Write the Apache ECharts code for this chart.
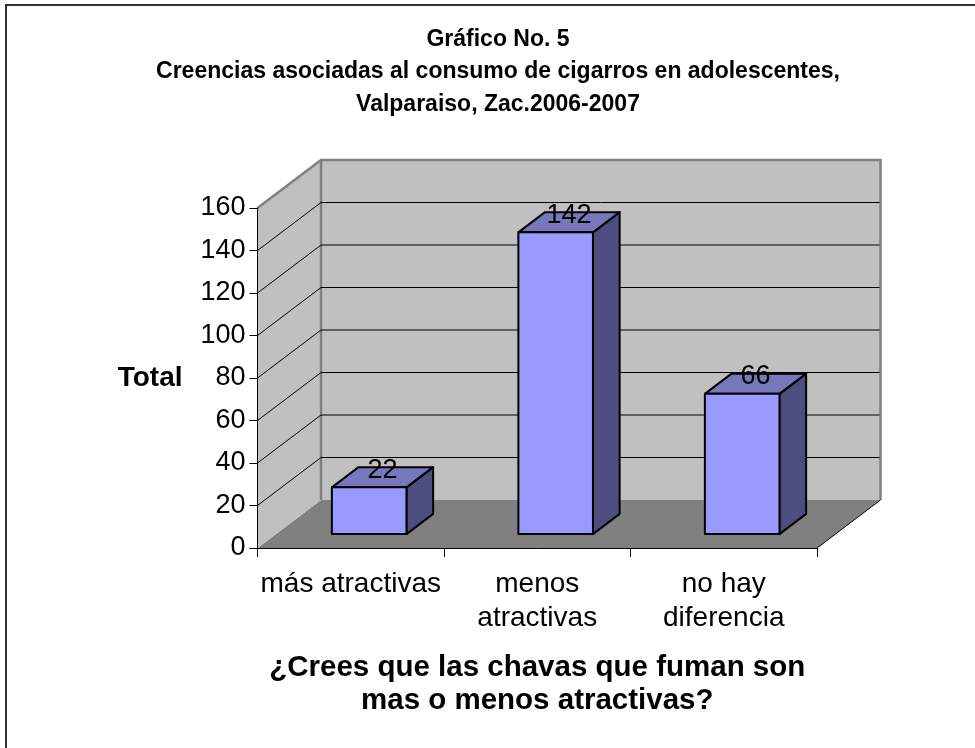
<!DOCTYPE html>
<html><head><meta charset="utf-8">
<style>html,body{margin:0;padding:0;background:#fff}#c{width:975px;height:748px}</style>
<script src="https://cdn.jsdelivr.net/npm/echarts@6/dist/echarts.min.js"></script>
</head><body><div id="c"></div>
<script>
var categories = ['más atractivas', 'menos\natractivas', 'no hay\ndiferencia'];
var values = [22, 142, 66];
var yTicks = [20, 40, 60, 80, 100, 120, 140, 160];
var titleLines = 'Gráfico No. 5\nCreencias asociadas al consumo de cigarros en adolescentes,\nValparaiso, Zac.2006-2007';
var xName = '¿Crees que las chavas que fuman son\nmas o menos atractivas?';
var yName = 'Total';

var FONT = '"Liberation Sans", Arial, sans-serif';
var DX = 63.5, DY = -48;          // wall depth
var BAR_START = 0.29, BAR_DEPTH = 0.42, BAR_W = 0.4;

var chart = echarts.init(document.getElementById('c'), null, {renderer: 'canvas'});

function wallItem(params, api) {
  var band = api.size([1, 0])[0];
  var o = api.coord([0, 0]);
  var top = api.coord([0, 160]);
  var x0 = o[0] - band / 2, x1 = x0 + 3 * band;
  var y0 = o[1], y1 = top[1];
  var edge = {stroke: '#808080', lineWidth: 2.5, fill: null};
  return {type: 'group', children: [
    {type: 'polygon', shape: {points: [[x0 + DX, y0 + DY], [x1 + DX, y0 + DY], [x1, y0], [x0, y0]]},
      style: {fill: '#808080', stroke: null}},
    {type: 'polygon', shape: {points: [[x0, y0], [x0 + DX, y0 + DY], [x0 + DX, y1 + DY], [x0, y1]]},
      style: {fill: '#C0C0C0', stroke: null}},
    {type: 'polygon', shape: {points: [[x0 + DX, y0 + DY], [x1 + DX, y0 + DY], [x1 + DX, y1 + DY], [x0 + DX, y1 + DY]]},
      style: {fill: '#C0C0C0', stroke: null}},
    {type: 'polyline', shape: {points: [[x0, y1], [x0 + DX, y1 + DY], [x1 + DX, y1 + DY], [x1 + DX, y0 + DY]]}, style: edge},
    {type: 'line', shape: {x1: x0 + DX, y1: y1 + DY, x2: x0 + DX, y2: y0 + DY}, style: edge},
    {type: 'line', shape: {x1: x1 + DX, y1: y0 + DY, x2: x1, y2: y0}, style: {stroke: '#000', lineWidth: 1}}
  ]};
}

function gridItem(params, api) {
  var band = api.size([1, 0])[0];
  var p = api.coord([0, api.value(1)]);
  var x0 = p[0] - band / 2, x1 = x0 + 3 * band, y = p[1];
  if (api.value(1) === 160) return {type: 'group', children: []};
  return {type: 'polyline', shape: {points: [[x0, y], [x0 + DX, y + DY], [x1 + DX - 1, y + DY]]},
    style: {stroke: '#000', lineWidth: 1, fill: null}};
}

function barItem(params, api) {
  var band = api.size([1, 0])[0];
  var c = api.coord([api.value(0), api.value(1)]);
  var b = api.coord([api.value(0), 0]);
  var w = band * BAR_W;
  var sx = DX * BAR_START, sy = DY * BAR_START;
  var dx = DX * BAR_DEPTH, dy = DY * BAR_DEPTH;
  var l = c[0] - w / 2 + sx, r = l + w;
  var t = c[1] + sy, bt = b[1] + sy;
  var line = {stroke: '#000', lineWidth: 2, lineJoin: 'round'};
  return {type: 'group', children: [
    {type: 'polygon', shape: {points: [[r, t], [r + dx, t + dy], [r + dx, bt + dy], [r, bt]]},
      style: Object.assign({fill: '#4D4D80'}, line)},
    {type: 'polygon', shape: {points: [[l, t], [l + dx, t + dy], [r + dx, t + dy], [r, t]]},
      style: Object.assign({fill: '#7777BB'}, line)},
    {type: 'rect', shape: {x: l, y: t, width: w, height: bt - t},
      style: Object.assign({fill: '#9999FF'}, line)},
    {type: 'text', style: {text: String(api.value(1)), x: (l + r) / 2 + dx / 2, y: t - 17,
      fill: '#000', font: '27px ' + FONT, align: 'center', verticalAlign: 'middle'}}
  ]};
}

chart.setOption({
  animation: false,
  backgroundColor: '#fff',
  title: {text: titleLines, left: 493, top: 18, textAlign: 'center',
    textStyle: {fontFamily: FONT, fontWeight: 'bold', fontSize: 23, lineHeight: 32.5, color: '#000'}},
  grid: {left: 257.5, right: 158, top: 208, bottom: 200},
  xAxis: {type: 'category', data: categories, z: 10,
    name: xName, nameLocation: 'middle', nameGap: 103,
    nameTextStyle: {fontFamily: FONT, fontWeight: 'bold', fontSize: 29.5, lineHeight: 33, color: '#000'},
    axisLine: {show: true, lineStyle: {color: '#000', width: 1}},
    axisTick: {show: true, length: 9, alignWithLabel: false, lineStyle: {color: '#000', width: 1}},
    axisLabel: {interval: 0, fontFamily: FONT, fontSize: 28, lineHeight: 34, color: '#000', margin: 19}
  },
  yAxis: {type: 'value', min: 0, max: 160, interval: 20, z: 10,
    name: yName, nameLocation: 'middle', nameRotate: 0, nameGap: 75,
    nameTextStyle: {fontFamily: FONT, fontWeight: 'bold', fontSize: 28, color: '#000'},
    axisLine: {show: true, lineStyle: {color: '#000', width: 1}},
    axisTick: {show: true, length: 8, lineStyle: {color: '#000', width: 1}},
    axisLabel: {fontFamily: FONT, fontSize: 27, color: '#000', margin: 12, padding: [4, 0, 0, 0]},
    splitLine: {show: false}
  },
  graphic: [{type: 'rect', z: -1, shape: {x: 6, y: 5, width: 1000, height: 800},
    style: {fill: null, stroke: '#333', lineWidth: 2}}],
  series: [
    {type: 'custom', z: 1, clip: false, silent: true, coordinateSystem: 'cartesian2d', data: [[0, 0]], renderItem: wallItem, encode: {x: 0, y: 1}},
    {type: 'custom', z: 2, clip: false, silent: true, coordinateSystem: 'cartesian2d', data: yTicks.map(function (t) { return [0, t]; }), renderItem: gridItem, encode: {x: 0, y: 1}},
    {type: 'custom', z: 3, clip: false, silent: true, coordinateSystem: 'cartesian2d', data: values.map(function (v, i) { return [i, v]; }), renderItem: barItem, encode: {x: 0, y: 1}}
  ]
});
</script></body></html>
